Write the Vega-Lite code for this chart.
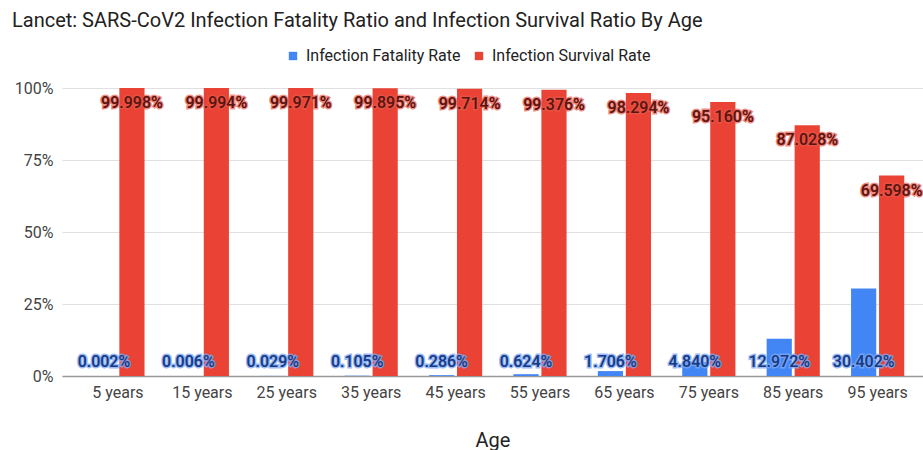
{
  "$schema": "https://vega.github.io/schema/vega-lite/v6.json",
  "autosize": "none",
  "width": 861,
  "height": 288,
  "padding": {"left": 62, "top": 88, "right": 0, "bottom": 74},
  "background": "white",
  "title": {
    "text": "Lancet: SARS-CoV2 Infection Fatality Ratio and Infection Survival Ratio By Age",
    "anchor": "start",
    "frame": "group",
    "dx": -50,
    "offset": 17,
    "font": "Roboto",
    "fontSize": 20,
    "fontWeight": "normal",
    "color": "#222222"
  },
  "config": {
    "view": {"stroke": null},
    "font": "Roboto"
  },
  "data": {
    "values": [
      {"age": "5 years", "series": "Infection Fatality Rate", "value": 0.00002},
      {"age": "15 years", "series": "Infection Fatality Rate", "value": 0.00006},
      {"age": "25 years", "series": "Infection Fatality Rate", "value": 0.00029},
      {"age": "35 years", "series": "Infection Fatality Rate", "value": 0.00105},
      {"age": "45 years", "series": "Infection Fatality Rate", "value": 0.00286},
      {"age": "55 years", "series": "Infection Fatality Rate", "value": 0.00624},
      {"age": "65 years", "series": "Infection Fatality Rate", "value": 0.01706},
      {"age": "75 years", "series": "Infection Fatality Rate", "value": 0.0484},
      {"age": "85 years", "series": "Infection Fatality Rate", "value": 0.12972},
      {"age": "95 years", "series": "Infection Fatality Rate", "value": 0.30402},
      {"age": "5 years", "series": "Infection Survival Rate", "value": 0.99998},
      {"age": "15 years", "series": "Infection Survival Rate", "value": 0.99994},
      {"age": "25 years", "series": "Infection Survival Rate", "value": 0.99971},
      {"age": "35 years", "series": "Infection Survival Rate", "value": 0.99895},
      {"age": "45 years", "series": "Infection Survival Rate", "value": 0.99714},
      {"age": "55 years", "series": "Infection Survival Rate", "value": 0.99376},
      {"age": "65 years", "series": "Infection Survival Rate", "value": 0.98294},
      {"age": "75 years", "series": "Infection Survival Rate", "value": 0.9516},
      {"age": "85 years", "series": "Infection Survival Rate", "value": 0.87028},
      {"age": "95 years", "series": "Infection Survival Rate", "value": 0.69598}
    ]
  },
  "encoding": {
    "x": {
      "field": "age",
      "type": "nominal",
      "sort": null,
      "scale": {"paddingInner": 0.37, "paddingOuter": 0.285, "align": 0.61},
      "axis": {
        "title": "Age",
        "titleFont": "Roboto",
        "titleFontSize": 20,
        "titleFontWeight": "normal",
        "titleColor": "#222222",
        "titlePadding": 30,
        "labelAngle": 0,
        "labelFont": "Roboto",
        "labelFontSize": 16,
        "labelColor": "#444444",
        "labelPadding": 8,
        "ticks": false,
        "domainColor": "#999999",
        "domainWidth": 1.5
      }
    },
    "xOffset": {
      "field": "series",
      "type": "nominal",
      "scale": {"paddingInner": 0.1}
    }
  },
  "layer": [
    {
      "mark": {"type": "bar"},
      "encoding": {
        "y": {
          "field": "value",
          "type": "quantitative",
          "scale": {"domain": [0, 1], "nice": false},
          "axis": {
            "title": null,
            "format": "%",
            "values": [0, 0.25, 0.5, 0.75, 1],
            "labelFont": "Roboto",
            "labelFontSize": 16,
            "labelColor": "#444444",
            "labelPadding": 9,
            "ticks": false,
            "domain": false,
            "gridColor": "#e0e0e0"
          }
        },
        "color": {
          "field": "series",
          "type": "nominal",
          "scale": {"range": ["#4285F4", "#EA4335"]},
          "legend": {
            "title": null,
            "orient": "none",
            "direction": "horizontal",
            "legendX": 223,
            "legendY": -40,
            "symbolType": "square",
            "symbolSize": 70,
            "symbolStrokeWidth": 0,
            "labelFont": "Roboto",
            "labelFontSize": 16,
            "labelColor": "#222222",
            "labelOffset": 5,
            "columnPadding": 10
          }
        }
      }
    },
    {
      "transform": [{"filter": "datum.series === 'Infection Survival Rate'"}],
      "mark": {"type": "text", "dy": 15, "baseline": "middle", "align": "center", "fontSize": 16, "fontWeight": 500, "stroke": "#e8574a", "strokeWidth": 3, "strokeOpacity": 0.7, "fill": "#5a1510"},
      "encoding": {
        "y": {"field": "value", "type": "quantitative"},
        "text": {"field": "value", "type": "quantitative", "format": ".3%"}
      }
    },
    {
      "transform": [{"filter": "datum.series === 'Infection Survival Rate'"}],
      "mark": {"type": "text", "dy": 15, "baseline": "middle", "align": "center", "fontSize": 16, "fontWeight": 500, "fill": "#5a1510"},
      "encoding": {
        "y": {"field": "value", "type": "quantitative"},
        "text": {"field": "value", "type": "quantitative", "format": ".3%"}
      }
    },
    {
      "transform": [{"filter": "datum.series === 'Infection Fatality Rate'"}],
      "mark": {"type": "text", "dy": -14, "baseline": "middle", "align": "center", "fontSize": 16, "fontWeight": 500, "stroke": "#7fa9f7", "strokeWidth": 3, "strokeOpacity": 0.8, "fill": "#173a80"},
      "encoding": {
        "y": {"datum": 0, "type": "quantitative"},
        "text": {"field": "value", "type": "quantitative", "format": ".3%"}
      }
    },
    {
      "transform": [{"filter": "datum.series === 'Infection Fatality Rate'"}],
      "mark": {"type": "text", "dy": -14, "baseline": "middle", "align": "center", "fontSize": 16, "fontWeight": 500, "fill": "#173a80"},
      "encoding": {
        "y": {"datum": 0, "type": "quantitative"},
        "text": {"field": "value", "type": "quantitative", "format": ".3%"}
      }
    }
  ]
}
